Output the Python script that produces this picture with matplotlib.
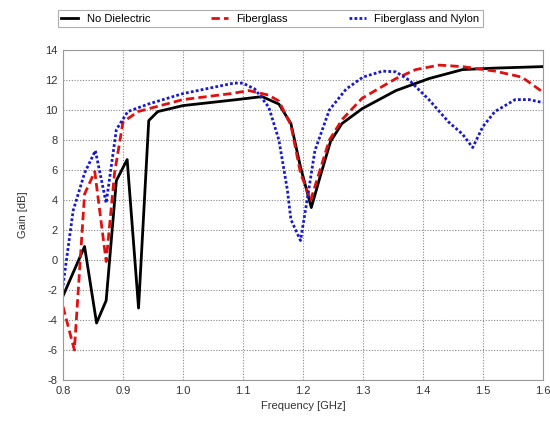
import numpy as np
import matplotlib
matplotlib.use('Agg')
import matplotlib.pyplot as plt

plt.rcParams['font.family'] = ['Liberation Sans', 'DejaVu Sans']
plt.rcParams['axes.unicode_minus'] = False

# No Dielectric
f_none = [0.800, 0.836, 0.856, 0.872, 0.889, 0.907, 0.926, 0.943, 0.958, 1.000,
          1.090, 1.132, 1.160, 1.180, 1.196, 1.214, 1.229, 1.246, 1.265, 1.299,
          1.355, 1.410, 1.466, 1.520, 1.600]
g_none = [-2.4, 0.9, -4.2, -2.7, 5.3, 6.7, -3.2, 9.3, 9.9, 10.3,
          10.7, 10.9, 10.4, 9.1, 6.2, 3.5, 5.6, 7.9, 9.1, 10.1,
          11.3, 12.1, 12.7, 12.8, 12.9]

# Fiberglass
f_fg = [0.800, 0.819, 0.836, 0.853, 0.872, 0.886, 0.900, 0.925, 1.000, 1.080,
        1.110, 1.143, 1.160, 1.180, 1.196, 1.213, 1.227, 1.244, 1.266, 1.299,
        1.355, 1.388, 1.427, 1.466, 1.520, 1.565, 1.600]
g_fg = [-3.1, -6.0, 4.4, 5.9, -0.1, 5.8, 9.2, 9.9, 10.7, 11.1,
        11.3, 11.0, 10.6, 9.0, 5.8, 4.0, 5.8, 8.0, 9.4, 10.8,
        12.1, 12.7, 13.0, 12.9, 12.6, 12.2, 11.2]

# Fiberglass and Nylon
f_fn = [0.800, 0.817, 0.836, 0.854, 0.872, 0.889, 0.908, 0.942, 1.000, 1.085,
        1.100, 1.120, 1.143, 1.160, 1.174, 1.180, 1.196, 1.207, 1.220, 1.244,
        1.272, 1.300, 1.333, 1.355, 1.377, 1.410, 1.443, 1.466, 1.483, 1.500,
        1.520, 1.554, 1.577, 1.600]
g_fn = [-1.7, 3.3, 5.8, 7.3, 3.8, 8.7, 9.9, 10.4, 11.1, 11.8,
        11.8, 11.4, 10.2, 8.0, 4.7, 2.7, 1.3, 4.0, 7.3, 10.0,
        11.4, 12.2, 12.6, 12.55, 12.0, 10.7, 9.2, 8.4, 7.5, 8.9,
        9.9, 10.7, 10.7, 10.5]

fig = plt.figure(figsize=(5.5, 4.24), dpi=100)
ax = fig.add_axes([0.1145, 0.1038, 0.8725, 0.778])

l1, = ax.plot(f_none, g_none, color='black', lw=2.0, ls='-', label='No Dielectric')
l2, = ax.plot(f_fg, g_fg, color='#e01010', lw=2.0, ls=(0, (3, 1.5)), label='Fiberglass')
l3, = ax.plot(f_fn, g_fn, color='#1a1acc', lw=2.0, ls=(0, (1, 0.8)), label='Fiberglass and Nylon')

ax.set_xlim(0.8, 1.6)
ax.set_ylim(-8, 14)
ax.set_xticks(np.arange(0.8, 1.61, 0.1))
ax.set_xticklabels(['0.8', '0.9', '1.0', '1.1', '1.2', '1.3', '1.4', '1.5', '1.6'])
ax.set_yticks(np.arange(-8, 15, 2))
ax.tick_params(length=0, labelsize=8, colors='#333333', pad=4)
ax.grid(True, color='#888888', ls=(0, (1, 1.5)), lw=0.8)
for s in ax.spines.values():
    s.set_color('#999999')

ax.set_xlabel('Frequency [GHz]', fontsize=8, color='#333333')
ax.set_ylabel('Gain [dB]', fontsize=8, color='#333333', labelpad=12)

leg = fig.legend(handles=[l1, l2, l3], ncol=3, mode='expand',
                 loc='lower left', bbox_to_anchor=(0.105, 0.936, 0.773, 0.047),
                 fontsize=8, fancybox=False, edgecolor='#999999',
                 borderaxespad=0, handlelength=1.5, borderpad=0.3)
leg.get_frame().set_linewidth(0.8)

fig.savefig('out.png', dpi=100)
